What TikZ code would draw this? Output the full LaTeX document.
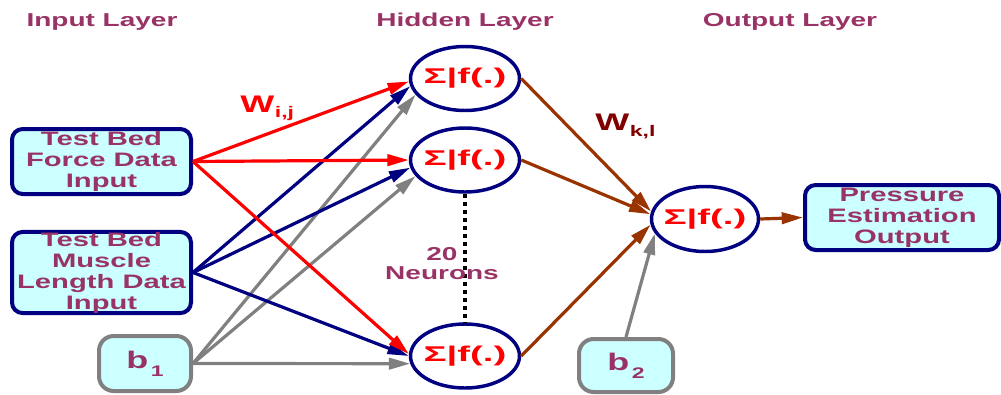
\documentclass[tikz,border=0pt]{standalone}
\usepackage{fontspec}
\setmainfont{Liberation Sans}[FakeStretch=1.5]
\newfontfamily\sigfont{Liberation Sans}[FakeStretch=1.8]
\usetikzlibrary{shapes.geometric,arrows.meta}
\definecolor{txtpurple}{RGB}{153,51,102}
\definecolor{navy}{RGB}{0,0,128}
\definecolor{boxfill}{RGB}{204,255,255}
\definecolor{brownarr}{RGB}{153,51,0}
\definecolor{darkred}{RGB}{128,0,0}
\definecolor{grayline}{RGB}{128,128,128}
\newcommand{\subtxt}[2]{\raisebox{-#1}{\fontsize{11.5}{13}\selectfont #2}}
\begin{document}
\begin{tikzpicture}[x=0.75pt,y=-0.75pt,
  lbl/.style={font=\fontsize{14}{15.75}\selectfont\bfseries, text=txtpurple, align=center, inner sep=0pt},
  inbox/.style={lbl, font=\fontsize{14.6}{15.75}\selectfont\bfseries, draw=navy, line width=3pt, fill=boxfill, rounded corners=8pt, minimum width=134.25pt},
  biasbox/.style={lbl, draw=grayline, line width=3pt, fill=boxfill, rounded corners=11pt, font=\fontsize{18}{20}\selectfont\bfseries},
  neuron/.style={ellipse, draw=navy, line width=2.6pt, fill=white, inner xsep=-6pt, inner ysep=-2pt, text=red, font=\sigfont\fontsize{16}{17}\selectfont\bfseries},
  hid/.style={neuron, minimum width=81.75pt, minimum height=48pt},
  arr/.style={line width=2.4pt, -{Triangle[length=16pt,width=8.5pt]}},
  wlbl/.style={inner sep=0pt, anchor=base west, font=\fontsize{18}{20}\selectfont\bfseries}
]
\useasboundingbox (0,0) rectangle (1001,394);

% titles
\node[lbl] (tin) at (102,22) {Input Layer};
\node[lbl] (thid) at (465,22) {Hidden Layer};
\node[lbl] (tout) at (790,22) {Output Layer};

% input boxes
\node[inbox, minimum height=48.75pt] (in1) at (101.5,161.5) {Test Bed\\Force Data\\Input};
\node[inbox, minimum height=60.75pt] (in2) at (101.5,272.5) {Test Bed\\Muscle\\Length Data\\Input};
\node[biasbox, minimum width=69pt, minimum height=41.25pt] (b1) at (145,363.5) {b\kern2pt\subtxt{6pt}{1}};
\node[biasbox, minimum width=70.5pt, minimum height=39.75pt] (b2) at (626,365.5) {b\kern2pt\subtxt{6pt}{2}};

% output box
\node[inbox, minimum width=145.5pt, minimum height=48.75pt] (outb) at (902,217.5) {Pressure\\Estimation\\Output};

% neurons
\node[hid] (e1) at (465,78.5) {Σ|f(.)};
\node[hid] (e2) at (465,160) {Σ|f(.)};
\node[hid] (e3) at (465,356) {Σ|f(.)};
\node[neuron, minimum width=80.25pt, minimum height=48.75pt] (eo) at (705,219) {Σ|f(.)};

% dotted line and label
\draw[line width=3.5pt, dash pattern=on 3.2pt off 2.8pt] (e2.south) -- (e3.north);
\node[lbl, font=\fontsize{14}{14.25}\selectfont\bfseries] (n20) at (442,263.5) {20\\Neurons};

% weight labels
\node[wlbl, text=red] (wij) at (240,112) {W\kern0.5pt\subtxt{4pt}{i,j}};
\node[wlbl, text=darkred] (wkl) at (595,130) {W\kern0.5pt\subtxt{5pt}{k,l}};

% connections input -> hidden
\draw[arr, grayline] (b1.east) -- (e1.198);
\draw[arr, grayline] (b1.east) -- (e2.198);
\draw[arr, grayline] (b1.east) -- (e3.188);
\draw[arr, navy] (in2.east) -- (e1.188);
\draw[arr, navy] (in2.east) -- (e2.188);
\draw[arr, navy] (in2.east) -- (e3.180);
\draw[arr, red] (in1.east) -- (e1.183);
\draw[arr, red] (in1.east) -- (e2.180);
\draw[arr, red] (in1.east) -- (e3.178);

% hidden -> output
\draw[arr, brownarr] (e1.east) -- (eo.172);
\draw[arr, brownarr] (e2.east) -- (eo.175);
\draw[arr, brownarr] (e3.east) -- (eo.186);
\draw[arr, grayline] (b2.north) -- (eo.196);
\draw[arr, brownarr] (eo.east) -- (outb.west);
\end{tikzpicture}
\end{document}
